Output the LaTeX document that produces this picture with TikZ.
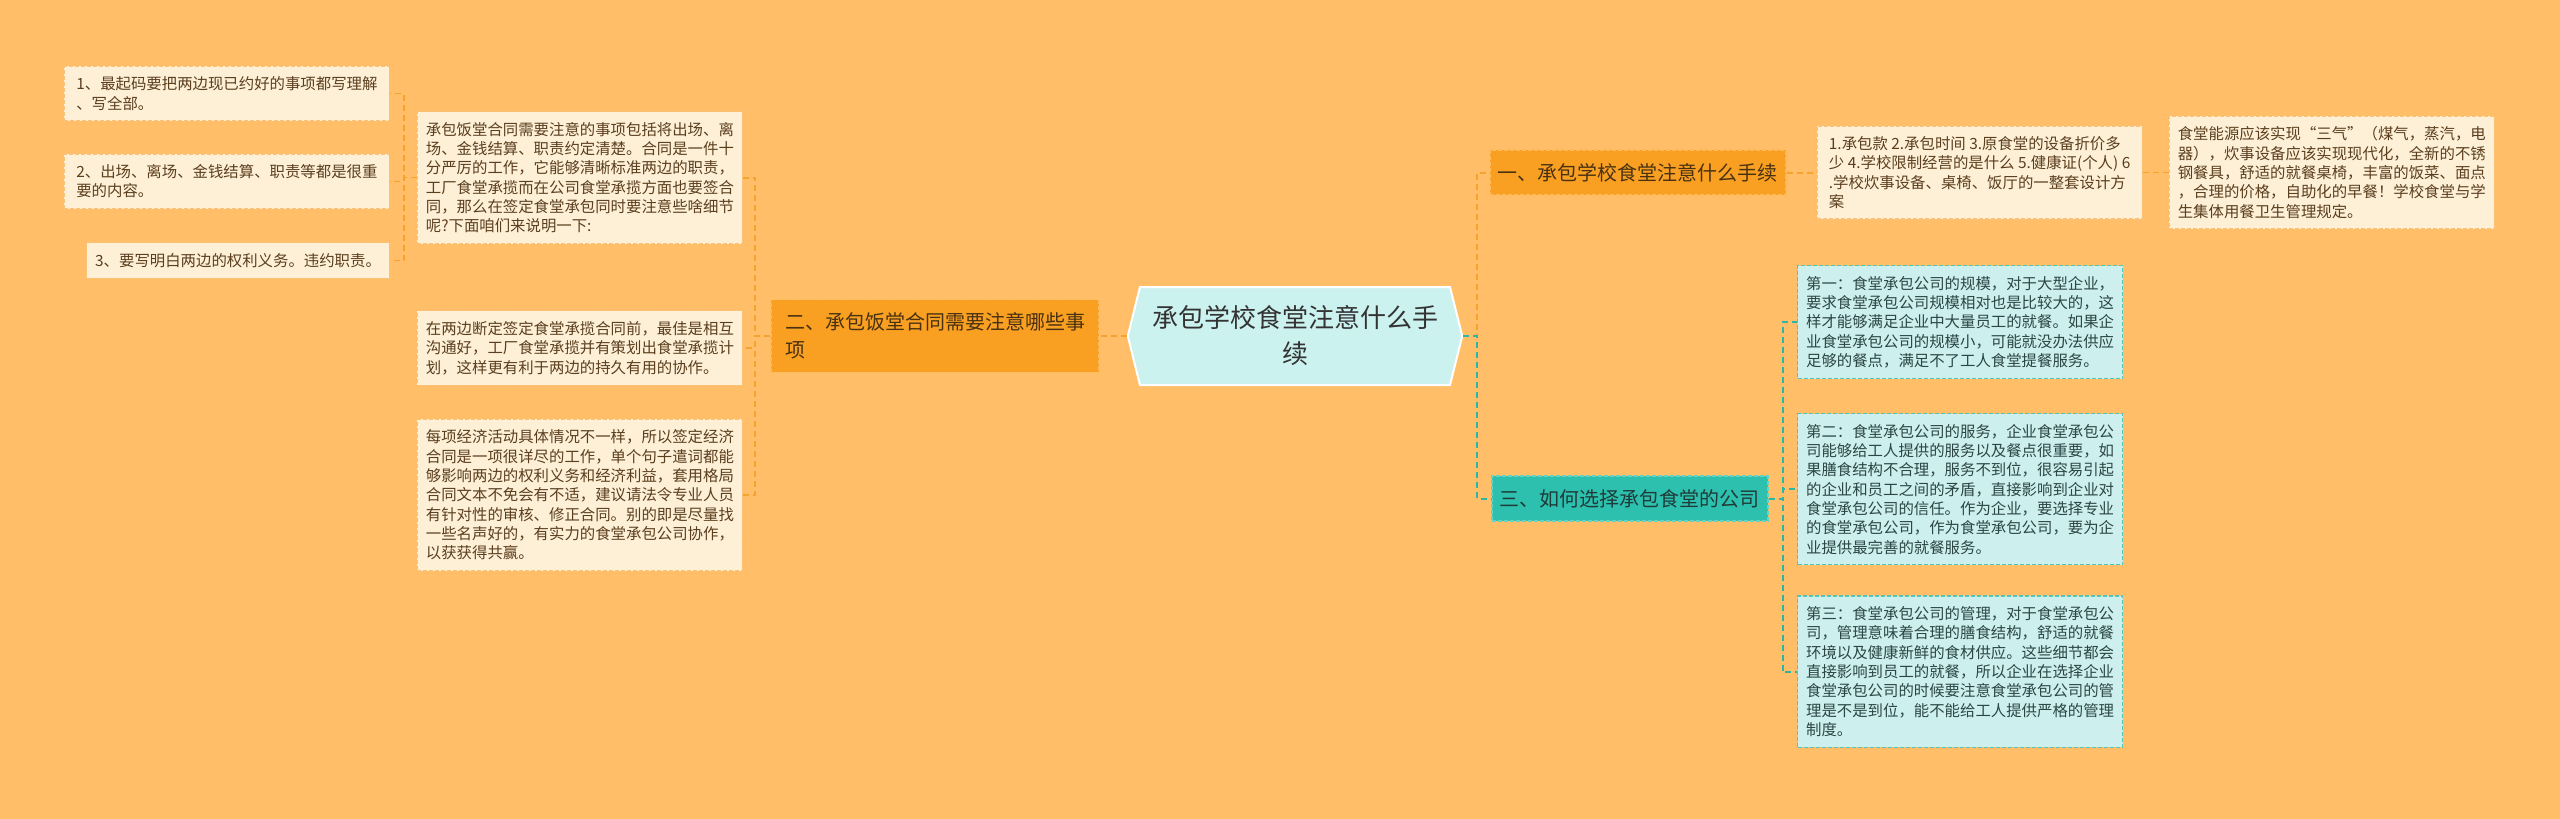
\documentclass[tikz,border=0pt]{standalone}
\usepackage{fontspec}
\setmainfont{Noto Sans CJK SC}
\usepackage{xcolor}
\usepackage{tikz}
\usetikzlibrary{positioning,shapes.symbols}

\definecolor{bgorange}{HTML}{FFBE67}
\definecolor{leaffill}{HTML}{FDF0D7}
\definecolor{leafline}{HTML}{F7C27A}
\definecolor{leaftext}{HTML}{5B3E1E}
\definecolor{obranchfill}{HTML}{F9A023}
\definecolor{obranchline}{HTML}{FDBB5C}
\definecolor{obranchtext}{HTML}{4A3210}
\definecolor{tbranchfill}{HTML}{2DC0AE}
\definecolor{tbranchline}{HTML}{63D3C6}
\definecolor{tbranchtext}{HTML}{1F3B38}
\definecolor{tleaffill}{HTML}{CDEFEE}
\definecolor{tleafline}{HTML}{52C6B8}
\definecolor{tleaftext}{HTML}{2B4645}
\definecolor{hexfill}{HTML}{CCF2F0}
\definecolor{hextext}{HTML}{333333}
\definecolor{olinecol}{HTML}{F7A12E}
\definecolor{tlinecol}{HTML}{2DB5A5}

\begin{document}
\begin{tikzpicture}[
        x=1pt, y=-1pt,
        node distance=30pt,
        hexnode/.style={signal, signal to=east and west, signal pointer angle=152, draw=white, line width=2pt, fill=hexfill, text=hextext, align=center, inner xsep=12pt, minimum height=98pt, font=\fontsize{26}{36}\selectfont},
        leaf/.style={rectangle, fill=leaffill, draw=leafline, line width=1.2pt, dash pattern=on 4pt off 2pt, text=leaftext, align=left, inner xsep=8.5pt, inner ysep=10.5pt, minimum width=325pt, font=\fontsize{15.4}{19.3}\selectfont},
        tleaf/.style={leaf, fill=tleaffill, draw=tleafline, text=tleaftext},
        obranch/.style={rectangle, fill=obranchfill, draw=obranchline, line width=1.5pt, dash pattern=on 4pt off 2pt, text=obranchtext, align=left, inner xsep=8pt, inner ysep=13pt, font=\fontsize{20}{28}\selectfont},
        tbranch/.style={obranch, fill=tbranchfill, draw=tbranchline, text=tbranchtext},
        olink/.style={draw=olinecol, line width=2pt, dash pattern=on 6pt off 4pt},
        tlink/.style={olink, draw=tlinecol},
        leaflink/.style={olink, line width=1.5pt}
    ]
        \useasboundingbox (0,0) rectangle (2560,819);
        \fill[bgorange] (0,0) rectangle (2560,819);

        % centre
        \node[hexnode] (hex) at (1295,336) {承包学校食堂注意什么手\\续};

        % left side
        \node[obranch, left=27pt of hex, minimum width=328pt] (b2) {二、承包饭堂合同需要注意哪些事\\项};
        \node[leaf, anchor=east] (leafB) at (743,348) {在两边断定签定食堂承揽合同前，最佳是相互\\沟通好，工厂食堂承揽并有策划出食堂承揽计\\划，这样更有利于两边的持久有用的协作。};
        \node[leaf, above=66pt of leafB] (leafA) {承包饭堂合同需要注意的事项包括将出场、离\\场、金钱结算、职责约定清楚。合同是一件十\\分严厉的工作，它能够清晰标准两边的职责，\\工厂食堂承揽而在公司食堂承揽方面也要签合\\同，那么在签定食堂承包同时要注意些啥细节\\呢?下面咱们来说明一下:};
        \node[leaf, below=33pt of leafB] (leafC) {每项经济活动具体情况不一样，所以签定经济\\合同是一项很详尽的工作，单个句子遣词都能\\够影响两边的权利义务和经济利益，套用格局\\合同文本不免会有不适，建议请法令专业人员\\有针对性的审核、修正合同。别的即是尽量找\\一些名声好的，有实力的食堂承包公司协作，\\以获获得共赢。};
        \node[leaf, anchor=east] (L1) at (390,93.5) {1、最起码要把两边现已约好的事项都写理解\\、写全部。};
        \node[leaf, below=32pt of L1] (L2) {2、出场、离场、金钱结算、职责等都是很重\\要的内容。};
        \node[leaf, below=33pt of L2.south east, anchor=north east, minimum width=0pt] (L3) {3、要写明白两边的权利义务。违约职责。};

        % right side
        \node[obranch, anchor=west] (b1) at (1489,172.5) {一、承包学校食堂注意什么手续};
        \node[leaf, right=30pt of b1] (rl1) {1.承包款 2.承包时间 3.原食堂的设备折价多\\少 4.学校限制经营的是什么 5.健康证(个人) 6\\.学校炊事设备、桌椅、饭厅的一整套设计方\\案};
        \node[leaf, right=26pt of rl1] (fr) {食堂能源应该实现“三气”（煤气，蒸汽，电\\器），炊事设备应该实现现代化，全新的不锈\\钢餐具，舒适的就餐桌椅，丰富的饭菜、面点\\，合理的价格，自助化的早餐！学校食堂与学\\生集体用餐卫生管理规定。};
        \node[tbranch, anchor=west] (b3) at (1491,498.5) {三、如何选择承包食堂的公司};
        \node[tleaf, anchor=north west] (R1) at (1797,265) {第一：食堂承包公司的规模，对于大型企业，\\要求食堂承包公司规模相对也是比较大的，这\\样才能够满足企业中大量员工的就餐。如果企\\业食堂承包公司的规模小，可能就没办法供应\\足够的餐点，满足不了工人食堂提餐服务。};
        \node[tleaf, below=34pt of R1] (R2) {第二：食堂承包公司的服务，企业食堂承包公\\司能够给工人提供的服务以及餐点很重要，如\\果膳食结构不合理，服务不到位，很容易引起\\的企业和员工之间的矛盾，直接影响到企业对\\食堂承包公司的信任。作为企业，要选择专业\\的食堂承包公司，作为食堂承包公司，要为企\\业提供最完善的就餐服务。};
        \node[tleaf, below=30pt of R2] (R3) {第三：食堂承包公司的管理，对于食堂承包公\\司，管理意味着合理的膳食结构，舒适的就餐\\环境以及健康新鲜的食材供应。这些细节都会\\直接影响到员工的就餐，所以企业在选择企业\\食堂承包公司的时候要注意食堂承包公司的管\\理是不是到位，能不能给工人提供严格的管理\\制度。};

        % connectors
        \draw[olink] (hex.west) -- (b2.east);
        \draw[olink] (b2.west) -- ++(-15,0) |- (leafA.east);
        \draw[olink] (b2.west) -- ++(-15,0) |- (leafB.east);
        \draw[olink] (b2.west) -- ++(-15,0) |- (leafC.east);
        \draw[leaflink] (leafA.west) -- ++(-13,0) |- (L1.east);
        \draw[leaflink] (leafA.west) -- ++(-13,0) |- (L2.east);
        \draw[leaflink] (leafA.west) -- ++(-13,0) |- (L3.east);
        \draw[olink] (hex.east) -- ++(14,0) |- (b1.west);
        \draw[tlink] (hex.east) -- ++(14,0) |- (b3.west);
        \draw[olink] (b1.east) -- (rl1.west);
        \draw[leaflink] (rl1.east) -- (fr.west);
        \draw[tlink] (b3.east) -- ++(14,0) |- (R1.west);
        \draw[tlink] (b3.east) -- ++(14,0) |- (R2.west);
        \draw[tlink] (b3.east) -- ++(14,0) |- (R3.west);
    \end{tikzpicture}
\end{document}
